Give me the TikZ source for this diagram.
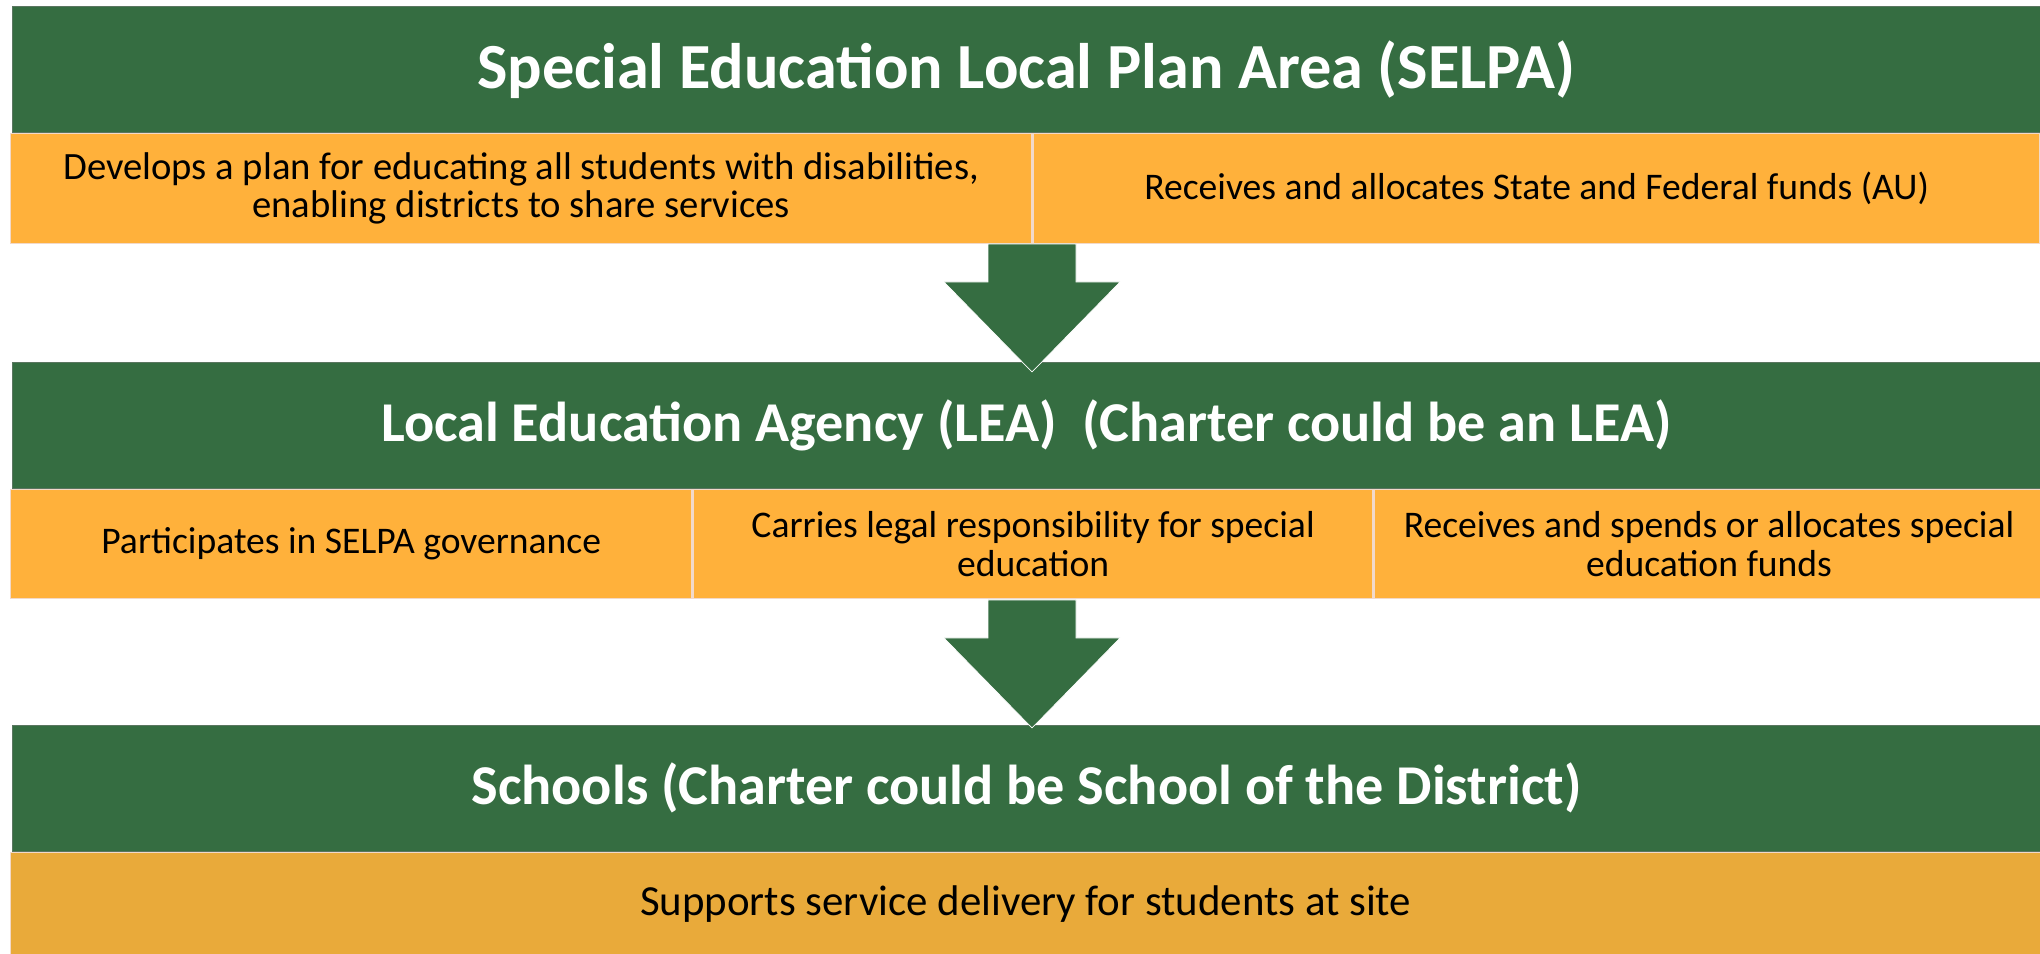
\documentclass[tikz,border=0pt]{standalone}
\usepackage{fontspec}
\setmainfont{Carlito}
\usetikzlibrary{positioning,calc}

\definecolor{selpagreen}{HTML}{356D41}
\definecolor{selpaorange}{HTML}{FFB13B}
\definecolor{siteorange}{HTML}{E9AA3A}
\definecolor{cellline}{HTML}{F2D9C9}

\tikzset{
  bar/.style={fill=selpagreen, draw=gray!50!selpagreen, very thin, text=white,
    font=\bfseries\fontsize{16}{19}\selectfont, minimum height=1.26cm,
    minimum width=20.28cm, inner sep=0pt, anchor=north west},
  cell/.style={fill=selpaorange, draw=cellline, thin, align=center,
    font=\fontsize{10.7}{10.9}\selectfont, inner sep=0pt, anchor=north west},
  downarrow/.style={fill=selpagreen, draw=white, very thin}
}

% arrow hanging below a point: shaft then head
\newcommand{\downarrowat}[1]{%
  \path[downarrow] ($(#1)+(-0.44,0)$) -- ++(0,-0.38) -- ++(-0.44,0)
    -- ($(#1)+(0,-1.28)$) -- ($(#1)+(0.88,-0.38)$) -- ++(-0.44,0)
    -- ++(0,0.38) -- cycle;}

\begin{document}
\begin{tikzpicture}
    \useasboundingbox (0,0) rectangle (20.4,-9.54);

    % SELPA
    \node[bar, font=\bfseries\fontsize{18.3}{22}\selectfont] (selpa) at (0.12,-0.06)
        {Special Education Local Plan Area (SELPA)};
    \node[cell, font=\fontsize{11}{10.9}\selectfont, minimum width=10.21cm, minimum height=1.10cm] (plan) at (0.10,-1.33)
        {Develops a plan for educating all students with disabilities,\\enabling districts to share services};
    \node[cell, minimum width=10.07cm, minimum height=1.10cm, right=0pt of plan] (funds)
        {Receives and allocates State and Federal funds (AU)};

    % LEA
    \node[bar] (lea) at (0.12,-3.62) {Local Education Agency (LEA)\ \ (Charter could be an LEA)};
    \node[cell, minimum width=6.81cm, minimum height=1.09cm] (gov) at (0.10,-4.89)
        {Participates in SELPA governance};
    \node[cell, minimum width=6.80cm, minimum height=1.09cm, right=0pt of gov] (legal)
        {Carries legal responsibility for special\\education};
    \node[cell, minimum width=6.69cm, minimum height=1.09cm, right=0pt of legal] (spend)
        {Receives and spends or allocates special\\education funds};

    % Schools
    \node[bar] (school) at (0.12,-7.25) {Schools (Charter could be School of the District)};
    \node[cell, fill=siteorange, font=\fontsize{12.2}{14}\selectfont, minimum width=20.30cm, minimum height=1.03cm] (site) at (0.10,-8.52)
        {Supports service delivery for students at site};

    % arrows between levels
    \coordinate (a1) at (10.32,-2.44);
    \coordinate (a2) at (10.32,-6.00);
    \downarrowat{a1}
    \downarrowat{a2}
\end{tikzpicture}
\end{document}
